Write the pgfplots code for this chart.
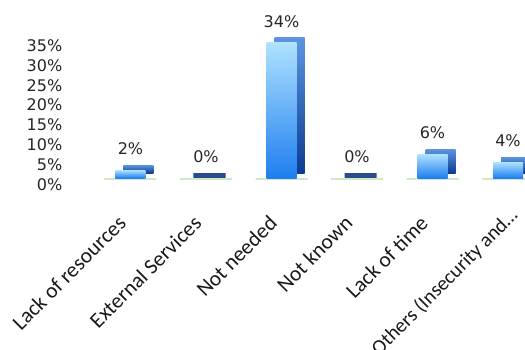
\documentclass[border=0pt]{standalone}
\usepackage{pgfplots}
\pgfplotsset{compat=1.18}
\usepackage{fontspec}
\setmainfont{Carlito}
\newfontfamily\tah{DejaVu Sans}
\definecolor{frontTop}{HTML}{AEE2FF}
\definecolor{frontBot}{HTML}{1E7EF0}
\definecolor{sideTop}{HTML}{5C94E2}
\definecolor{sideBot}{HTML}{0B3C90}
\definecolor{zeroC}{HTML}{2B4C8C}
\definecolor{floorC}{HTML}{CFE8C6}
\pgfplotsset{
  backbar/.style={bar shift=0pt, draw=none, top color=sideTop, bottom color=sideBot, xshift=8bp, yshift=5bp},
  frontbar/.style={bar shift=0pt, draw=none, top color=frontTop, bottom color=frontBot,
    nodes near coords={\pgfmathprintnumber{\pgfplotspointmeta}\%},
    nodes near coords style={font=\tah\fontsize{16bp}{18bp}\selectfont, anchor=center, yshift=21bp, text=black!85}},
}
\begin{document}
\begin{tikzpicture}
\path[use as bounding box] (-92.75bp,-172bp) rectangle (432.25bp,178bp);
\begin{axis}[
  at={(0,0)}, anchor=south west,
  scale only axis, width=453bp, height=139bp,
  xmin=-0.5, xmax=5.5, ymin=0, ymax=35,
  axis line style={draw=none}, tick style={draw=none},
  ytick={0,5,...,35},
  yticklabel={\pgfmathprintnumber{\tick}\%},
  /pgf/number format/assume math mode=true,
  yticklabel style={font=\tah\fontsize{16bp}{18bp}\selectfont, anchor=east, xshift=-27bp, yshift=-6.5bp, text=black!85},
  xtick={0,...,4},
  xticklabels={Lack of resources, External Services, Not needed, Not known, Lack of time},
  xticklabel style={font=\fontsize{21.5bp}{23bp}\selectfont, xshift=-6bp, yshift=-35bp, rotate=45, anchor=east, text=black!90},
  extra x ticks={5},
  extra x tick labels={Others (Insecurity and\ldots},
  extra x tick style={xticklabel style={font=\fontsize{20.3bp}{22bp}\selectfont, xshift=15.5bp, yshift=-5.6bp}},
  ybar, bar width=30bp,
  clip=false,
]
\addplot[bar shift=0pt, bar width=52bp, draw=floorC, fill=floorC, line width=2bp, yshift=-0.5bp] coordinates {(0,0) (1,0) (2,0) (3,0) (4,0) (5,0)};
\addplot[backbar] coordinates {(0,2)};
\addplot[frontbar] coordinates {(0,2)};
\addplot[backbar] coordinates {(2,34)};
\addplot[frontbar] coordinates {(2,34)};
\addplot[backbar] coordinates {(4,6)};
\addplot[frontbar] coordinates {(4,6)};
\addplot[backbar] coordinates {(5,4)};
\addplot[frontbar] coordinates {(5,4)};
\addplot[bar shift=3.5bp, bar width=32bp, draw=zeroC, fill=zeroC, line width=5bp, yshift=3bp,
  nodes near coords={\pgfmathprintnumber{\pgfplotspointmeta}\%},
  nodes near coords style={font=\tah\fontsize{16bp}{18bp}\selectfont, anchor=center, yshift=18bp, xshift=-3.5bp, text=black!85}]
  coordinates {(1,0) (3,0)};
\end{axis}
\end{tikzpicture}
\end{document}
